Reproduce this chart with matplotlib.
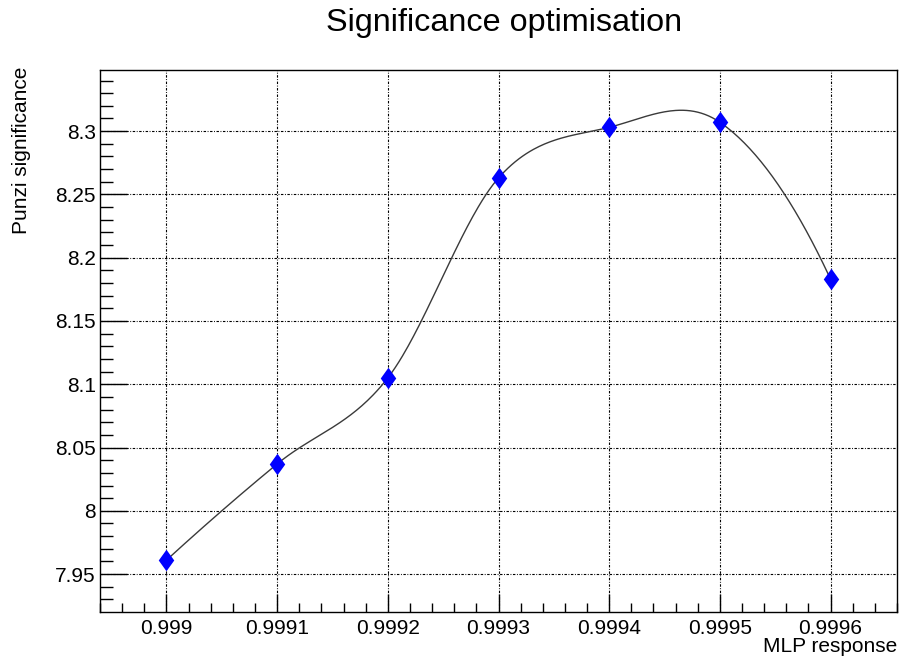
import numpy as np
import matplotlib
matplotlib.use("Agg")
import matplotlib.pyplot as plt
from matplotlib.path import Path
from matplotlib.ticker import MultipleLocator, FixedLocator, FixedFormatter

plt.rcParams['font.family'] = ['Liberation Sans', 'DejaVu Sans']

# MLP response cut values and the Punzi significance obtained for each
mlp_cut = [0.9990, 0.9991, 0.9992, 0.9993, 0.9994, 0.9995, 0.9996]
punzi = [7.961, 8.037, 8.105, 8.263, 8.303, 8.307, 8.183]

x_ticks = [0.9990, 0.9991, 0.9992, 0.9993, 0.9994, 0.9995, 0.9996]
x_tick_labels = ["0.999", "0.9991", "0.9992", "0.9993", "0.9994", "0.9995", "0.9996"]
y_ticks = [7.95, 8.0, 8.05, 8.1, 8.15, 8.2, 8.25, 8.3]
y_tick_labels = ["7.95", "8", "8.05", "8.1", "8.15", "8.2", "8.25", "8.3"]


def smooth_curve(x, y, n_per_seg=60):
    """Hermite curve through the points with Catmull-Rom tangents."""
    x = np.asarray(x, float)
    y = np.asarray(y, float)
    m = len(x)
    t = np.empty(m)
    t[1:-1] = (y[2:] - y[:-2]) / (x[2:] - x[:-2])
    # end tangents: quadratic end condition
    t[0] = 2 * (y[1] - y[0]) / (x[1] - x[0]) - t[1]
    t[-1] = 2 * (y[-1] - y[-2]) / (x[-1] - x[-2]) - t[-2]
    xs_all, ys_all = [], []
    for i in range(m - 1):
        h = x[i + 1] - x[i]
        s = np.linspace(0, 1, n_per_seg, endpoint=(i == m - 2))
        h00 = 2 * s**3 - 3 * s**2 + 1
        h10 = s**3 - 2 * s**2 + s
        h01 = -2 * s**3 + 3 * s**2
        h11 = s**3 - s**2
        xs_all.append(x[i] + s * h)
        ys_all.append(h00 * y[i] + h10 * h * t[i] + h01 * y[i + 1] + h11 * h * t[i + 1])
    return np.concatenate(xs_all), np.concatenate(ys_all)


fig = plt.figure(figsize=(9.01, 6.57), dpi=100)
ax = fig.add_axes([100 / 901, 45.3 / 657, 797 / 901, 541.7 / 657])

ax.set_xlim(0.99894, 0.99966)
ax.set_ylim(7.9203, 8.3483)

ax.xaxis.set_major_locator(FixedLocator(x_ticks))
ax.xaxis.set_major_formatter(FixedFormatter(x_tick_labels))
ax.xaxis.set_minor_locator(MultipleLocator(0.00002))
ax.yaxis.set_major_locator(FixedLocator(y_ticks))
ax.yaxis.set_major_formatter(FixedFormatter(y_tick_labels))
ax.yaxis.set_minor_locator(MultipleLocator(0.01))

ax.tick_params(axis='both', which='both', direction='in', colors='black',
               labelsize=15, width=1)
ax.tick_params(axis='x', which='major', length=13, pad=5)
ax.tick_params(axis='x', which='minor', length=6.5)
ax.tick_params(axis='y', which='major', length=19.5, pad=3)
ax.tick_params(axis='y', which='minor', length=9.5)
for s in ax.spines.values():
    s.set_linewidth(1.0)
    s.set_color('black')

ax.grid(True, which='major', color='black', linestyle=(0, (2.2, 1.4, 0.8, 1.4)),
        linewidth=0.8)
ax.set_axisbelow(True)

xs, ys = smooth_curve(mlp_cut, punzi)
ax.plot(xs, ys, color='#3a3a3a', linewidth=1.0, zorder=3)

diamond = Path([(0, 1), (0.72, 0), (0, -1), (-0.72, 0), (0, 1)],
               [Path.MOVETO, Path.LINETO, Path.LINETO, Path.LINETO, Path.CLOSEPOLY])
ax.plot(mlp_cut, punzi, linestyle='none', marker=diamond, markersize=15.5,
        color='#0000ff', markeredgewidth=0, zorder=4)

fig.text(504 / 901, 1 - 23 / 657, "Significance optimisation", ha='center',
         va='center', fontsize=23.3)
fig.text(897 / 901, 1 - 647 / 657, "MLP response", ha='right', va='center',
         fontsize=15)
fig.text(22 / 901, 1 - 67 / 657, "Punzi significance", ha='center', va='top',
         rotation=90, fontsize=15)

fig.savefig("out.png", dpi=100)
